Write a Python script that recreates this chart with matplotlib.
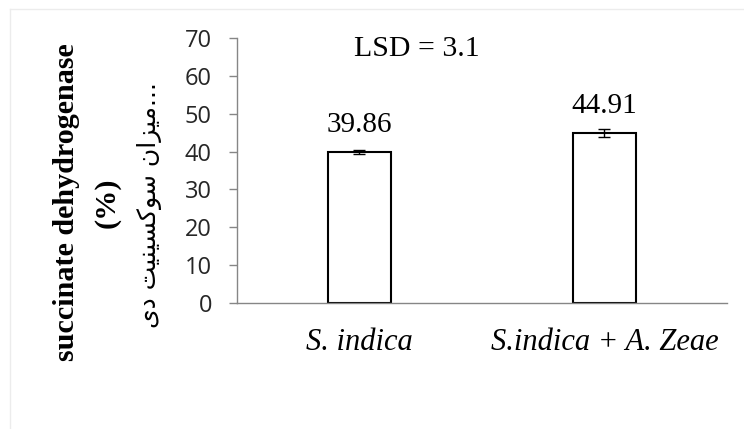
import matplotlib
matplotlib.use("Agg")
import matplotlib.pyplot as plt
from matplotlib.lines import Line2D

# treatments and measured values
categories = ["S. indica", "S.indica + A. Zeae"]
values = [39.86, 44.91]
errors = [0.6, 1.0]
yticks = [0, 10, 20, 30, 40, 50, 60, 70]
lsd_text = "LSD = 3.1"

ylabel_en = "succinate dehydrogenase"
ylabel_unit = "(%)"
# Persian label, pre-shaped glyphs laid out left to right
ylabel_fa = ("\uFEEF\uFEA9 "
             "\uFE96\uFEF4\uFEE8\uFEF4\uFEB4\uFB90\uFEEE\uFEB3 "
             "\uFEE5\uFE8D\uFEB0\uFEF4\uFEE3...")

fig = plt.figure(figsize=(7.44, 4.29), dpi=100)
ax = fig.add_axes([0.3185, 0.2937, 0.6586, 0.6177])

x = list(range(len(categories)))
ax.bar(x, values, width=0.255, color="white", edgecolor="black", linewidth=1.5, zorder=2)
ax.errorbar(x, values, yerr=errors, fmt="none", ecolor="black", elinewidth=1.0,
            capsize=4.5, capthick=1.0, zorder=3)

for xi, v in zip(x, values):
    ax.annotate(f"{v:.2f}", (xi, v), xytext=(0, 10), textcoords="offset points",
                ha="center", va="bottom", fontsize=21, family="Liberation Serif")

ax.text(0.235, 67.0, lsd_text, ha="center", va="center", fontsize=21.5,
        family="Liberation Serif")

ax.set_xlim(-0.5, 1.5)
ax.set_ylim(0, 70)
ax.set_yticks(yticks)
ax.set_xticks(x)
ax.set_xticklabels(categories, fontsize=22, family="Liberation Serif", style="italic")
ax.tick_params(axis="x", length=0, pad=18)
ax.tick_params(axis="y", length=6, width=1, color="#868686", labelsize=17,
               labelcolor="#262626", pad=12)
for lab in ax.get_yticklabels():
    lab.set_family("Open Sans")

for side in ["top", "right"]:
    ax.spines[side].set_visible(False)
for side in ["left", "bottom"]:
    ax.spines[side].set_color("#868686")
    ax.spines[side].set_linewidth(1)

# y-axis label in three stacked columns
fig.text(67 / 744, 1 - 202 / 429, ylabel_en, rotation=90, ha="center", va="center",
         fontsize=21.7, fontweight="bold", family="Liberation Serif")
fig.text(107 / 744, 1 - 203 / 429, ylabel_unit, rotation=90, ha="center", va="center",
         fontsize=21.7, fontweight="bold", family="Liberation Serif")
fig.text(150 / 744, 1 - 205 / 429, ylabel_fa, rotation=90, ha="center", va="center",
         fontsize=18, family=["DejaVu Sans"])

# faint outer frame on the top and left edges
fig.add_artist(Line2D([10 / 744, 1], [1 - 9 / 429, 1 - 9 / 429], color="#ececec", lw=1))
fig.add_artist(Line2D([10 / 744, 10 / 744], [0, 1 - 9 / 429], color="#ececec", lw=1))

fig.savefig("out.png", dpi=100)
